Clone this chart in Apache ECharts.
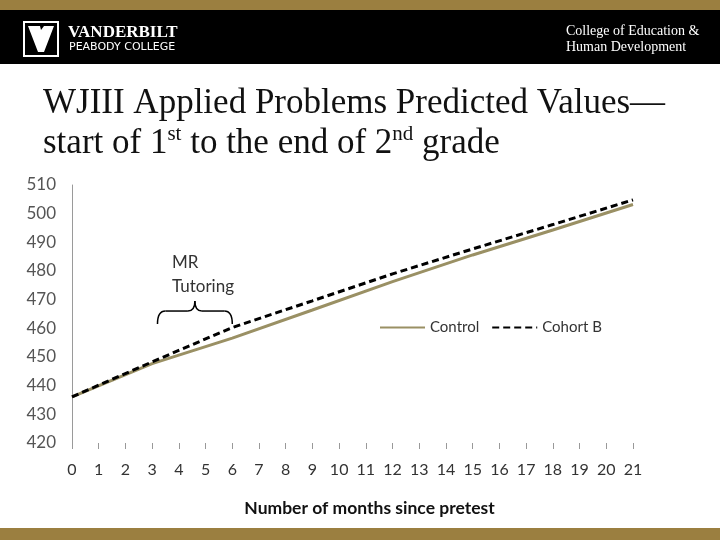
<!DOCTYPE html>
<html><head><meta charset="utf-8">
<script src="https://cdn.jsdelivr.net/npm/echarts@6/dist/echarts.min.js"></script>
<style>html,body{margin:0;padding:0;background:#fff}#c{width:720px;height:540px}</style>
</head><body><div id="c"></div>
<script>
var months = [0, 3, 6, 9, 12, 15, 18, 21];
var controlValues = [436.1, 447.7, 456.6, 466.4, 476.3, 485.6, 494.3, 503.2];
var cohortBValues = [436.1, 448.3, 460.3, 469.6, 479.0, 487.7, 496.2, 504.8];
var xTickLabels = ['0','1','2','3','4','5','6','7','8','9','10','11','12','13','14','15','16','17','18','19','20','21'];
var yTickLabels = [420, 430, 440, 450, 460, 470, 480, 490, 500, 510];
var seriesNames = ['Control', 'Cohort B'];
var tutoringRange = [3.2, 6];

function pairs(xs, ys) { return xs.map(function (x, i) { return [x, ys[i]]; }); }

var chart = echarts.init(document.getElementById('c'), null, {renderer: 'canvas'});
var gold = '#9b7f40';
var option = {
  animation: false,
  backgroundColor: '#ffffff',
  title: {
    left: 43, top: 84, padding: 0,
    text: 'WJIII Applied Problems Predicted Values\u2014\nstart of 1{sup|st} to the end of 2{sup|nd} grade',
    textStyle: {
      fontFamily: 'Liberation Serif', fontSize: 35, color: '#111', fontWeight: 'normal', lineHeight: 40,
      rich: { sup: { fontFamily: 'Liberation Serif', fontSize: 21, color: '#111', verticalAlign: 'top', padding: [0, 0, 14, 0] } }
    }
  },
  grid: { left: 72, right: 87, top: 185, bottom: 97, containLabel: false },
  legend: {
    left: 374, top: 315, itemWidth: 45, itemHeight: 14, itemGap: 12,
    itemStyle: { opacity: 0 },
    textStyle: { fontFamily: 'Lato', fontSize: 15, color: '#333' },
    data: seriesNames
  },
  xAxis: {
    type: 'value', min: 0, max: 21, interval: 1,
    name: 'Number of months since pretest', nameLocation: 'middle', nameGap: 56,
    nameTextStyle: { fontFamily: 'Lato', fontSize: 17.5, color: '#111', fontWeight: 'bold', padding: [0, 0, 0, 34] },
    axisLine: { show: false },
    axisTick: { show: true, length: 6, inside: false, lineStyle: { color: '#999' } },
    axisLabel: { margin: 19, fontFamily: 'Lato', fontSize: 16, color: '#333',
      formatter: function (v) { return xTickLabels[v]; } },
    splitLine: { show: false }
  },
  yAxis: {
    type: 'value', min: 420, max: 510, interval: 10,
    axisLine: { show: true, lineStyle: { color: '#9a9a9a', width: 1 } },
    axisTick: { show: false },
    axisLabel: { margin: 16, fontFamily: 'Lato', fontSize: 17, color: '#555',
      formatter: function (v) { return yTickLabels.indexOf(v) >= 0 ? String(v) : ''; } },
    splitLine: { show: false }
  },
  series: [
    { name: seriesNames[0], type: 'line', data: pairs(months, controlValues), symbol: 'none',
      lineStyle: { color: '#9a9064', width: 3 }, itemStyle: { color: '#9a9064' }, z: 2 },
    { name: seriesNames[1], type: 'line', data: pairs(months, cohortBValues), symbol: 'none',
      lineStyle: { color: '#000', width: 3, type: [7, 4] }, itemStyle: { color: '#000' }, z: 3 }
  ]
};
chart.setOption(option);

// brace annotation placed through the chart's own scales
var pL = chart.convertToPixel({gridIndex: 0}, [tutoringRange[0], 461.5]);
var pR = chart.convertToPixel({gridIndex: 0}, [tutoringRange[1], 461.5]);
var x1 = pL[0], x2 = pR[0], xm = (x1 + x2) / 2, yb = pL[1], yt = yb - 13, ytip = yt - 10;
var braceStyle = { fill: null, stroke: '#000', lineWidth: 1.5 };
function curve(a, b, c) { return { type: 'bezierCurve', shape: { x1: a[0], y1: a[1], cpx1: b[0], cpy1: b[1], x2: c[0], y2: c[1] }, style: braceStyle }; }
function seg(a, b) { return { type: 'line', shape: { x1: a[0], y1: a[1], x2: b[0], y2: b[1] }, style: braceStyle }; }

function txt(x, y, s, font) { return { type: 'text', x: x, y: y, style: { text: s, font: font, fill: '#fff' } }; }

chart.setOption({
  graphic: [
    { type: 'rect', shape: { x: 0, y: 0, width: 720, height: 10 }, style: { fill: gold }, silent: true },
    { type: 'rect', shape: { x: 0, y: 10, width: 720, height: 54 }, style: { fill: '#000' }, silent: true },
    { type: 'rect', shape: { x: 0, y: 528, width: 720, height: 12 }, style: { fill: gold }, silent: true },
    { type: 'rect', shape: { x: 24, y: 22, width: 34, height: 34 }, style: { fill: '#000', stroke: '#fff', lineWidth: 2 } },
    { type: 'polygon', shape: { points: [[28, 26], [40, 26], [41, 30], [44, 26], [54, 26], [44, 52], [38, 52]] }, style: { fill: '#fff' } },
    txt(68, 24, 'VANDERBILT', 'bold 17px "Liberation Serif"'),
    txt(69, 42, 'PEABODY COLLEGE', '11px "DejaVu Sans"'),
    txt(566, 24, 'College of Education &', '14px "Liberation Serif"'),
    txt(566, 40, 'Human Development', '14px "Liberation Serif"'),
    { type: 'text', x: 172, y: 251, style: { text: 'MR\nTutoring', font: '17px Lato', fill: '#333', lineHeight: 24 } },
    curve([x1, yb], [x1, yt], [x1 + 8, yt]),
    seg([x1 + 8, yt], [xm - 7, yt]),
    curve([xm - 7, yt], [xm, yt], [xm, ytip]),
    curve([xm, ytip], [xm, yt], [xm + 7, yt]),
    seg([xm + 7, yt], [x2 - 8, yt]),
    curve([x2 - 8, yt], [x2, yt], [x2, yb])
  ]
});
</script></body></html>
